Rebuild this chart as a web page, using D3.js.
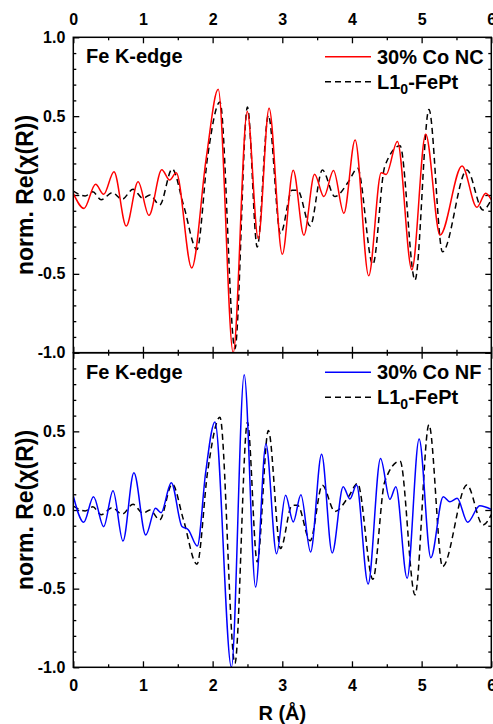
<!DOCTYPE html>
<html>
<head>
<meta charset="utf-8">
<script src="https://cdn.jsdelivr.net/npm/d3@7"></script>
<style>
  html, body { margin: 0; padding: 0; background: #fff; }
  svg { display: block; }
  text { font-family: "Liberation Sans", Arial, sans-serif; font-weight: bold; fill: #000; }
</style>
</head>
<body>
<svg id="chart" width="493" height="724"></svg>
<script>
// ---------- data ----------
const xTickLabels = [0, 1, 2, 3, 4, 5, 6];
const yTickLabelsTop = [1.0, 0.5, 0.0, -0.5, -1.0];
const yTickLabelsBottom = [0.5, 0.0, -0.5, -1.0];

// 30% Co NC (red, top panel)
const ncR = [0, 0.154, 0.32, 0.436, 0.584, 0.76, 0.93, 1.086, 1.27, 1.383, 1.478, 1.70, 1.91, 2.08, 2.295, 2.497, 2.655, 2.81, 3.0, 3.157, 3.31, 3.463, 3.597, 3.735, 3.884, 4.045, 4.24, 4.42, 4.49, 4.652, 4.86, 5.058, 5.265, 5.58, 5.793, 5.92, 6.0];
const ncV = [0.01, -0.085, 0.068, 0.004, 0.148, -0.197, 0.084, -0.129, 0.16, 0.095, 0.141, -0.463, 0.24, 0.67, -1.0, 0.53, -0.277, 0.55, -0.376, 0.157, -0.255, 0.131, -0.01, 0.155, -0.116, 0.349, -0.512, 0.141, 0.13, 0.34, -0.474, 0.386, -0.254, 0.184, -0.078, 0.011, -0.03];

// L1_0-FePt reference (black dashed, both panels)
const fptR = [0, 0.17, 0.28, 0.40, 0.56, 0.70, 0.857, 1.0, 1.10, 1.24, 1.42, 1.58, 1.775, 1.93, 2.105, 2.32, 2.50, 2.64, 2.80, 2.975, 3.14, 3.22, 3.40, 3.575, 3.755, 3.95, 4.08, 4.30, 4.47, 4.69, 4.905, 5.105, 5.30, 5.65, 5.88, 6.0];
const fptV = [0.025, -0.006, 0.02, -0.03, 0.015, -0.027, 0.036, -0.021, 0.0, -0.063, 0.165, -0.06, -0.345, 0.25, 0.59, -0.975, 0.558, -0.33, 0.505, -0.245, 0.03, 0.03, -0.196, 0.158, -0.01, 0.084, 0.169, -0.44, 0.18, 0.312, -0.54, 0.542, -0.36, 0.159, -0.095, -0.03];

// 30% Co NF (blue, bottom panel)
const nfR = [0, 0.149, 0.29, 0.436, 0.57, 0.713, 0.87, 1.04, 1.18, 1.26, 1.406, 1.56, 1.65, 1.78, 1.90, 2.033, 2.27, 2.453, 2.617, 2.765, 2.918, 3.047, 3.157, 3.267, 3.406, 3.564, 3.716, 3.874, 3.97, 4.066, 4.232, 4.41, 4.544, 4.63, 4.792, 4.964, 5.132, 5.31, 5.405, 5.51, 5.66, 5.835, 6.0];
const nfV = [0.089, -0.078, 0.085, -0.106, 0.123, -0.197, 0.237, -0.159, 0.011, -0.017, 0.174, -0.105, -0.125, -0.229, 0.24, 0.56, -1.0, 0.86, -0.49, 0.42, -0.278, 0.093, -0.076, 0.097, -0.267, 0.354, -0.273, 0.148, 0.07, 0.159, -0.47, 0.328, 0.068, 0.148, -0.434, 0.451, -0.303, 0.085, 0.053, 0.074, -0.078, 0.027, 0.004];

const seriesNames = ["30% Co NC", "30% Co NF", "L1", "0", "-FePt"];

// ---------- layout ----------
const svg = d3.select("#chart");
const left = 73.3, right = 491.3;
const x = d3.scaleLinear().domain([0, 6]).range([left, right]);
const panels = [
  { top: 37.3, bottom: 352.7, data: { r: ncR, v: ncV }, color: "#ff0000", name: seriesNames[0], yLabels: yTickLabelsTop, topLabels: true },
  { top: 352.7, bottom: 667.3, data: { r: nfR, v: nfV }, color: "#0000ff", name: seriesNames[1], yLabels: yTickLabelsBottom, topLabels: false }
];

const fmt = d => d3.format(".1f")(d).replace("\u2212", "-");
const majorY = [-1, -0.5, 0, 0.5, 1];
const minorY = d3.range(-10, 11).map(d => d / 10).filter(d => Math.abs(d * 2 - Math.round(d * 2)) > 1e-6);
const majorX = xTickLabels;
const minorX = [0.5, 1.5, 2.5, 3.5, 4.5, 5.5];

panels.forEach((p, i) => {
  const y = d3.scaleLinear().domain([-1, 1]).range([p.bottom, p.top]);
  const g = svg.append("g");
  const clipId = "clip" + i;
  svg.append("clipPath").attr("id", clipId).append("rect")
    .attr("x", left).attr("y", p.top).attr("width", right - left).attr("height", p.bottom - p.top);

  // left axis major with labels
  const axL = g.append("g").attr("transform", `translate(${left},0)`)
    .call(d3.axisLeft(y).tickValues(majorY).tickSize(-6).tickPadding(8)
      .tickFormat(d => p.yLabels.some(v => Math.abs(v - d) < 1e-9) ? fmt(d) : ""));
  axL.selectAll("text").style("font-size", "16px");
  g.append("g").attr("transform", `translate(${left},0)`)
    .call(d3.axisLeft(y).tickValues(minorY).tickSize(-3).tickFormat(""));
  // right axis
  g.append("g").attr("transform", `translate(${right},0)`)
    .call(d3.axisRight(y).tickValues(majorY).tickSize(-6).tickFormat(""));
  g.append("g").attr("transform", `translate(${right},0)`)
    .call(d3.axisRight(y).tickValues(minorY).tickSize(-3).tickFormat(""));
  // top axis
  const axT = g.append("g").attr("transform", `translate(0,${p.top})`)
    .call(d3.axisTop(x).tickValues(majorX).tickSize(-6).tickPadding(12)
      .tickFormat(d => p.topLabels ? d3.format("d")(d) : ""));
  axT.selectAll("text").style("font-size", "16px");
  g.append("g").attr("transform", `translate(0,${p.top})`)
    .call(d3.axisTop(x).tickValues(minorX).tickSize(-3).tickFormat(""));
  // bottom axis
  const axB = g.append("g").attr("transform", `translate(0,${p.bottom})`)
    .call(d3.axisBottom(x).tickValues(majorX).tickSize(-6).tickPadding(12)
      .tickFormat(d => !p.topLabels ? d3.format("d")(d) : ""));
  axB.selectAll("text").style("font-size", "16px");
  g.append("g").attr("transform", `translate(0,${p.bottom})`)
    .call(d3.axisBottom(x).tickValues(minorX).tickSize(-3).tickFormat(""));

  g.selectAll(".domain").remove();
  g.selectAll(".tick line").attr("stroke", "#000").attr("stroke-width", 1.3);
  g.selectAll(".tick text").attr("fill", "#000").style("font-family", "'Liberation Sans', Arial, sans-serif").style("font-weight", "bold");

  // lines
  const line = d3.line().x(d => x(d[0])).y(d => y(d[1])).curve(d3.curveMonotoneX);
  const ref = d3.zip(fptR, fptV);
  const dat = d3.zip(p.data.r, p.data.v);
  const lg = g.append("g").attr("clip-path", `url(#${clipId})`);
  lg.append("path").datum(ref).attr("d", line)
    .attr("fill", "none").attr("stroke", "#000").attr("stroke-width", 1.5).attr("stroke-dasharray", "6,4");
  lg.append("path").datum(dat).attr("d", line)
    .attr("fill", "none").attr("stroke", p.color).attr("stroke-width", 1.5);

  // frame
  g.append("rect").attr("x", left).attr("y", p.top).attr("width", right - left).attr("height", p.bottom - p.top)
    .attr("fill", "none").attr("stroke", "#000").attr("stroke-width", 1.5);

  // panel label
  g.append("text").attr("x", 86).attr("y", p.top + 26).style("font-size", "20px").text("Fe K-edge");

  // legend
  const ly1 = p.top + 19.5, ly2 = p.top + 44.5;
  g.append("line").attr("x1", 325).attr("x2", 371).attr("y1", ly1).attr("y2", ly1)
    .attr("stroke", p.color).attr("stroke-width", 1.5);
  g.append("text").attr("x", 377).attr("y", ly1 + 7).style("font-size", "20px").text(p.name);
  g.append("line").attr("x1", 325).attr("x2", 371).attr("y1", ly2).attr("y2", ly2)
    .attr("stroke", "#000").attr("stroke-width", 1.5).attr("stroke-dasharray", "6,4");
  const t2 = g.append("text").attr("x", 377).attr("y", ly2 + 7).style("font-size", "20px");
  t2.append("tspan").text(seriesNames[2]);
  t2.append("tspan").attr("dy", 5).style("font-size", "14px").text(seriesNames[3]);
  t2.append("tspan").attr("dy", -5).text(seriesNames[4]);

  // y title
  const cy = (p.top + p.bottom) / 2;
  g.append("text").attr("transform", `translate(33,${cy}) rotate(-90)`)
    .attr("text-anchor", "middle").style("font-size", "23px")
    .text("norm. Re(χ(R))");
});

// x title
svg.append("text").attr("x", (left + right) / 2).attr("y", 720).attr("text-anchor", "middle")
  .style("font-size", "20px").text("R (Å)");
</script>
</body>
</html>
